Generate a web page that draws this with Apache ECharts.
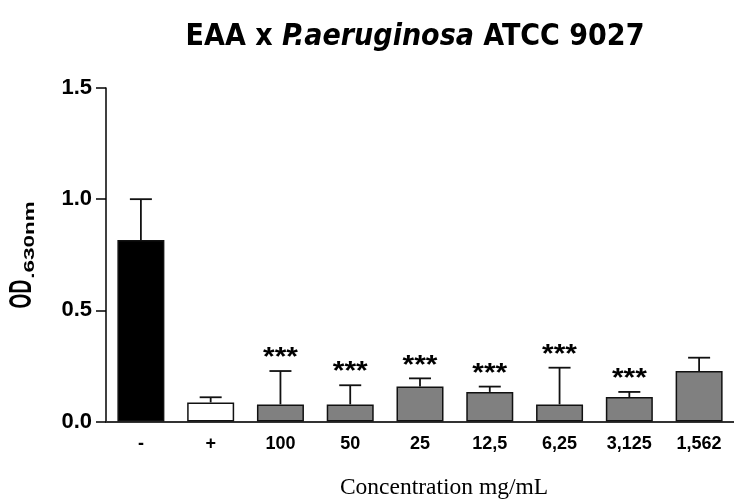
<!DOCTYPE html>
<html>
<head>
<meta charset="utf-8">
<script src="https://cdn.jsdelivr.net/npm/echarts@6/dist/echarts.min.js"></script>
<style>html,body{margin:0;padding:0;background:#fff;}#c{width:734px;height:499px;}</style>
</head>
<body>
<div id="c"></div>
<script>
const categories = ['-', '+', '100', '50', '25', '12,5', '6,25', '3,125', '1,562'];
const means = [0.816, 0.086, 0.077, 0.077, 0.157, 0.133, 0.077, 0.110, 0.227];
const errors = [0.184, 0.023, 0.150, 0.086, 0.037, 0.024, 0.165, 0.023, 0.060];
const significance = ['', '', '***', '***', '***', '***', '***', '***', ''];
const barFills = ['#000000', '#ffffff', '#808080', '#808080', '#808080', '#808080', '#808080', '#808080', '#808080'];
const yTicks = [0, 0.5, 1.0, 1.5];

const chart = echarts.init(document.getElementById('c'), null, {renderer: 'canvas'});
const narrow = '"Liberation Sans Narrow", "DejaVu Sans Condensed", "Liberation Sans", Arial, sans-serif';
const sans = '"Liberation Sans", Arial, sans-serif';

const errData = means.map((m, i) => [i, m, m + errors[i]]);
const starData = means.map((m, i) => significance[i] ? [i, m + errors[i]] : null).filter(Boolean);

chart.setOption({
  animation: false,
  backgroundColor: '#ffffff',
  grid: {left: 106, right: -11, top: 88, bottom: 77.5, containLabel: false},
  graphic: [
    {type: 'text', x: 415, y: 37, style: {
      text: '{a|EAA x }{b|P.aeruginosa}{a| ATCC 9027}',
      textAlign: 'center', textVerticalAlign: 'middle',
      rich: {
        a: {fontFamily: narrow, fontWeight: 'bold', fontSize: 30, fill: '#000'},
        b: {fontFamily: narrow, fontWeight: 'bold', fontStyle: 'italic', fontSize: 30, fill: '#000'}
      }
    }},
    {type: 'text', x: 444, y: 488, style: {
      text: 'Concentration mg/mL', textAlign: 'center', textVerticalAlign: 'middle',
      fontFamily: '"Liberation Serif", "Times New Roman", serif', fontSize: 23.5, fill: '#000'
    }},
    {type: 'text', x: 22.5, y: 294, rotation: Math.PI / 2, scaleX: 0.6, scaleY: 1, style: {
      text: 'OD', textAlign: 'center', textVerticalAlign: 'middle',
      fontFamily: sans, fontWeight: 'bold', fontSize: 32, fill: '#000'
    }},
    {type: 'text', x: 30, y: 240, rotation: Math.PI / 2, scaleX: 1.5, scaleY: 1, style: {
      text: '.630nm', textAlign: 'center', textVerticalAlign: 'middle',
      fontFamily: sans, fontWeight: 'bold', fontSize: 15, fill: '#000'
    }}
  ],
  xAxis: {
    type: 'category',
    data: categories,
    boundaryGap: true,
    axisLine: {show: true, lineStyle: {color: '#333', width: 2}},
    axisTick: {show: false},
    axisLabel: {color: '#000', fontFamily: sans, fontWeight: 'bold', fontSize: 18, margin: 14, interval: 0},
    splitLine: {show: false}
  },
  yAxis: {
    type: 'value',
    min: 0, max: 1.5, interval: 0.5,
    axisLine: {show: true, lineStyle: {color: '#000', width: 1.5}},
    axisTick: {show: true, inside: false, length: 10, lineStyle: {color: '#000', width: 1.5}},
    axisLabel: {color: '#000', fontFamily: sans, fontWeight: 'bold', fontSize: 22, margin: 14,
      formatter: v => yTicks.indexOf(v) >= 0 ? v.toFixed(1) : ''},
    splitLine: {show: false}
  },
  series: [
    {
      type: 'bar',
      barWidth: 47,
      data: means.map((m, i) => ({value: m, itemStyle: {color: barFills[i], borderColor: '#111', borderWidth: 1.5}})),
      z: 2
    },
    {
      type: 'custom',
      z: 3,
      renderItem: function (params, api) {
        const x = api.coord([api.value(0), api.value(1)])[0];
        const yb = api.coord([api.value(0), api.value(1)])[1];
        const yt = api.coord([api.value(0), api.value(2)])[1];
        const hw = 11;
        return {type: 'group', children: [
          {type: 'line', shape: {x1: x, y1: yb, x2: x, y2: yt}, style: {stroke: '#111', lineWidth: 1.8}},
          {type: 'line', shape: {x1: x - hw, y1: yt, x2: x + hw, y2: yt}, style: {stroke: '#111', lineWidth: 1.8}}
        ]};
      },
      encode: {x: 0, y: [1, 2]},
      data: errData
    },
    {
      type: 'custom',
      z: 4,
      renderItem: function (params, api) {
        const p = api.coord([api.value(0), api.value(1)]);
        return {type: 'text', x: p[0], y: p[1] - 13, scaleX: 1.15, style: {
          text: '***', textAlign: 'center', textVerticalAlign: 'middle',
          fontFamily: sans, fontWeight: 'bold', fontSize: 26, fill: '#000'
        }};
      },
      encode: {x: 0, y: 1},
      data: starData
    }
  ]
});
</script>
</body>
</html>
